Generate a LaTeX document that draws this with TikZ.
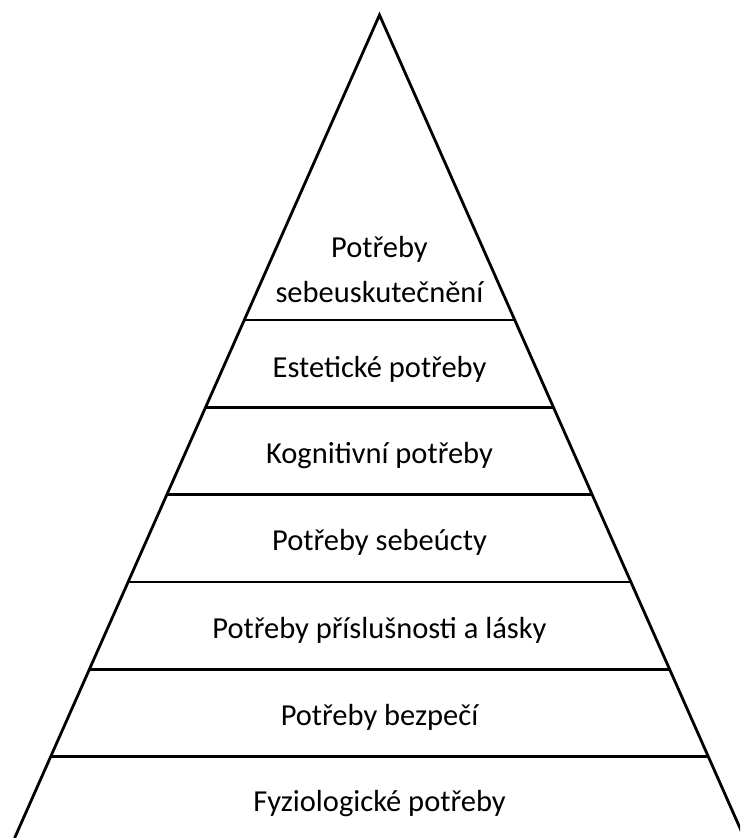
\documentclass[tikz,border=0pt]{standalone}
\usepackage{fontspec}
\setmainfont{Carlito}
\usepackage{tikz}

\tikzset{
	edge/.style={black, line width=2.8pt},
	level/.style={black, line width=2.6pt},
	lbl/.style={font=\fontsize{30.5}{36}\selectfont, anchor=base, inner sep=0pt}
}

\begin{document}
\begin{tikzpicture}[x=1pt, y=-1pt]
		\useasboundingbox (0,0) rectangle (740,838);
		\clip (0,0) rectangle (740,838);

		% sides of the pyramid
		\coordinate (apex) at (379.5, 15);
		\coordinate (bl) at (14.6, 838);
		\coordinate (br) at (744.4, 838);
		\draw[edge, line join=miter] (bl) -- (apex) -- (br);

		% levels
		\draw[level] (244.3, 320) -- (514.7, 320);
		\draw[level] (205.6, 407.3) -- (553.4, 407.3);
		\draw[level] (166.8, 494.6) -- (592.2, 494.6);
		\draw[level] (128.1, 581.9) -- (630.9, 581.9);
		\draw[level] (89.4, 669.2) -- (669.6, 669.2);
		\draw[level] (50.7, 756.5) -- (708.3, 756.5);

		% labels
		\node[lbl] (self1) at (379.5, 257) {Potřeby};
		\node[lbl] (self2) at (379.5, 302) {sebeuskutečnění};
		\node[lbl] (aest) at (379.5, 377) {Estetické potřeby};
		\node[lbl] (cogn) at (379.5, 463) {Kognitivní potřeby};
		\node[lbl] (este) at (379.5, 550) {Potřeby sebeúcty};
		\node[lbl] (love) at (379.5, 638) {Potřeby příslušnosti a lásky};
		\node[lbl] (safe) at (379.5, 725) {Potřeby bezpečí};
		\node[lbl] (phys) at (379.5, 811) {Fyziologické potřeby};
	\end{tikzpicture}
\end{document}
